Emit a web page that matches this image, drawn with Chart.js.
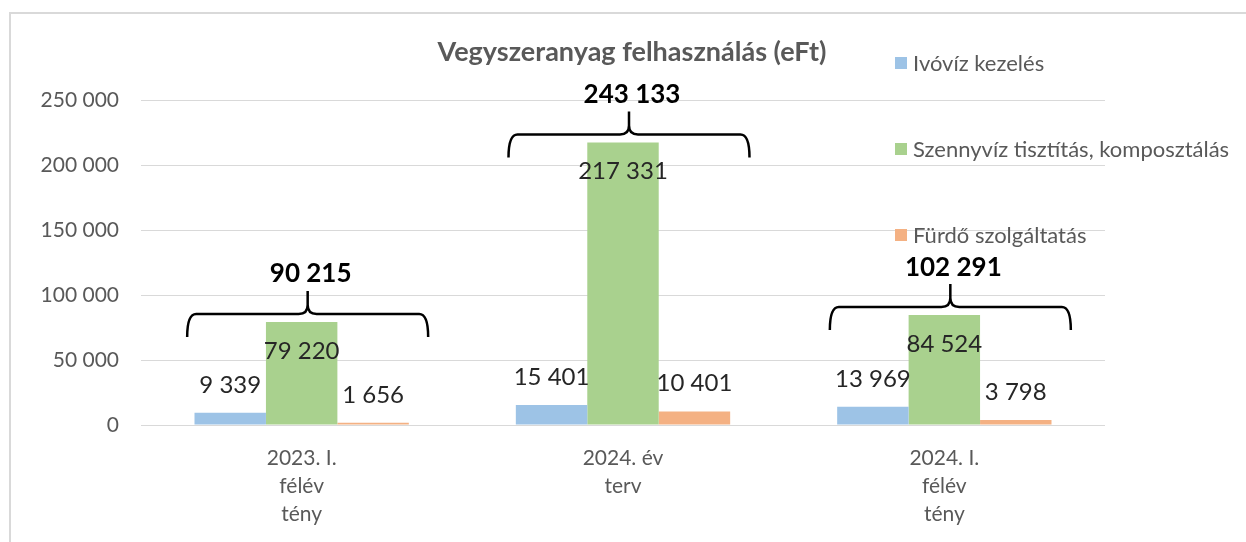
<!DOCTYPE html>
<html><head><meta charset="utf-8">
<script src="https://cdn.jsdelivr.net/npm/chart.js@4.4.0/dist/chart.umd.min.js"></script>
<style>
html,body{margin:0;padding:0;background:#fff;}
#wrap{position:relative;width:1246px;height:542px;overflow:hidden;background:#fff;}
#frame{position:absolute;left:9px;top:12px;right:-10px;bottom:-10px;border-left:2px solid #d9d9d9;border-top:2px solid #d9d9d9;}
canvas{position:absolute;left:0;top:0;}
</style></head><body>
<div id="wrap"><div id="frame"></div><canvas id="c" width="1246" height="542"></canvas></div>
<script>
const chartTitle = 'Vegyszeranyag felhasználás (eFt)';
const categories = [['2023. I.','félév','tény'],['2024. év','terv'],['2024. I.','félév','tény']];
const seriesNames = ['Ivóvíz kezelés','Szennyvíz tisztítás, komposztálás','Fürdő szolgáltatás'];
const ivoviz = [9339, 15401, 13969];
const szennyviz = [79220, 217331, 84524];
const furdo = [1656, 10401, 3798];
const yTicks = [0, 50000, 100000, 150000, 200000, 250000];
const seriesColors = ['#9DC3E6', '#A9D18E', '#F4B183'];

const FONT = 'Lato, "Open Sans", sans-serif';
function fmt(v){ return String(v).replace(/\B(?=(\d{3})+(?!\d))/g, ' '); }

const seriesValues = [ivoviz, szennyviz, furdo];
const datasets = seriesNames.map((n, i) => ({
  label: n,
  data: seriesValues[i],
  backgroundColor: seriesColors[i],
  borderWidth: 0,
  categoryPercentage: 0.667,
  barPercentage: 1.0,
  labelInside: i === 1
}));

const overlay = {
  id: 'overlay',
  afterDatasetsDraw(chart) {
    const ctx = chart.ctx;
    const ys = chart.scales.y;
    ctx.save();
    // value labels
    ctx.textAlign = 'center';
    ctx.textBaseline = 'middle';
    ctx.font = '24px ' + FONT;
    ctx.fillStyle = '#262626';
    chart.data.datasets.forEach((ds, i) => {
      const meta = chart.getDatasetMeta(i);
      meta.data.forEach((el, j) => {
        const y = ds.labelInside ? el.y + 29 : el.y - 28;
        ctx.fillText(fmt(ds.data[j]), el.x, y);
      });
    });
    // brackets with totals
    const xs = chart.scales.x;
    chart.data.labels.forEach((lab, j) => {
      const vals = chart.data.datasets.map(d => d.data[j]);
      const total = vals.reduce((a, b) => a + b, 0);
      const maxV = Math.max(...vals);
      const cx = xs.getPixelForValue(j) + 6;
      const half = 120.5;
      const yl = ys.getPixelForValue(maxV) - 8;
      const h = 23, r = 9;
      const x0 = cx - half, x1 = cx + half;
      ctx.beginPath();
      ctx.lineWidth = 2.5;
      ctx.strokeStyle = '#000';
      ctx.lineJoin = 'round';
      ctx.moveTo(x0, yl + h);
      ctx.quadraticCurveTo(x0, yl, x0 + r, yl);
      ctx.lineTo(cx - r, yl);
      ctx.quadraticCurveTo(cx, yl, cx, yl - r);
      ctx.lineTo(cx, yl - h);
      ctx.moveTo(cx, yl - r);
      ctx.quadraticCurveTo(cx, yl, cx + r, yl);
      ctx.lineTo(x1 - r, yl);
      ctx.quadraticCurveTo(x1, yl, x1, yl + h);
      ctx.stroke();
      ctx.font = 'bold 26px ' + FONT;
      ctx.fillStyle = '#000';
      ctx.fillText(fmt(total), cx + 3, yl - h - 17);
    });
    // title
    ctx.font = 'bold 27px ' + FONT;
    ctx.fillStyle = '#595959';
    ctx.fillText(chartTitle, 632, 52);
    // legend
    ctx.textAlign = 'left';
    ctx.font = '22px ' + FONT;
    chart.data.datasets.forEach((ds, i) => {
      const y = 63 + i * 86;
      ctx.fillStyle = ds.backgroundColor;
      ctx.fillRect(895, y - 6, 12, 12);
      ctx.fillStyle = '#595959';
      ctx.fillText(ds.label, 913, y + 1);
    });
    ctx.restore();
  }
};

new Chart(document.getElementById('c'), {
  type: 'bar',
  data: { labels: categories, datasets },
  options: {
    responsive: false,
    animation: false,
    devicePixelRatio: 1,
    layout: { padding: { top: 100, right: 141, left: 0, bottom: 0 } },
    plugins: { legend: { display: false }, title: { display: false }, tooltip: { enabled: false } },
    scales: {
      x: {
        grid: { display: false },
        border: { display: false },
        ticks: { color: '#595959', font: { family: FONT, size: 21, lineHeight: 1.33 }, padding: 11, maxRotation: 0, autoSkip: false },
        afterFit(s) { s.height = 117; }
      },
      y: {
        min: 0, max: 250000,
        afterBuildTicks(s) { s.ticks = yTicks.map(v => ({ value: v })); },
        grid: { color: '#d9d9d9', lineWidth: 1, drawTicks: false },
        border: { display: false },
        ticks: { color: '#595959', font: { family: FONT, size: 21 }, padding: 22, callback: v => fmt(v) },
        afterFit(s) { s.width = 141; }
      }
    }
  },
  plugins: [overlay]
});
</script>
</body></html>
